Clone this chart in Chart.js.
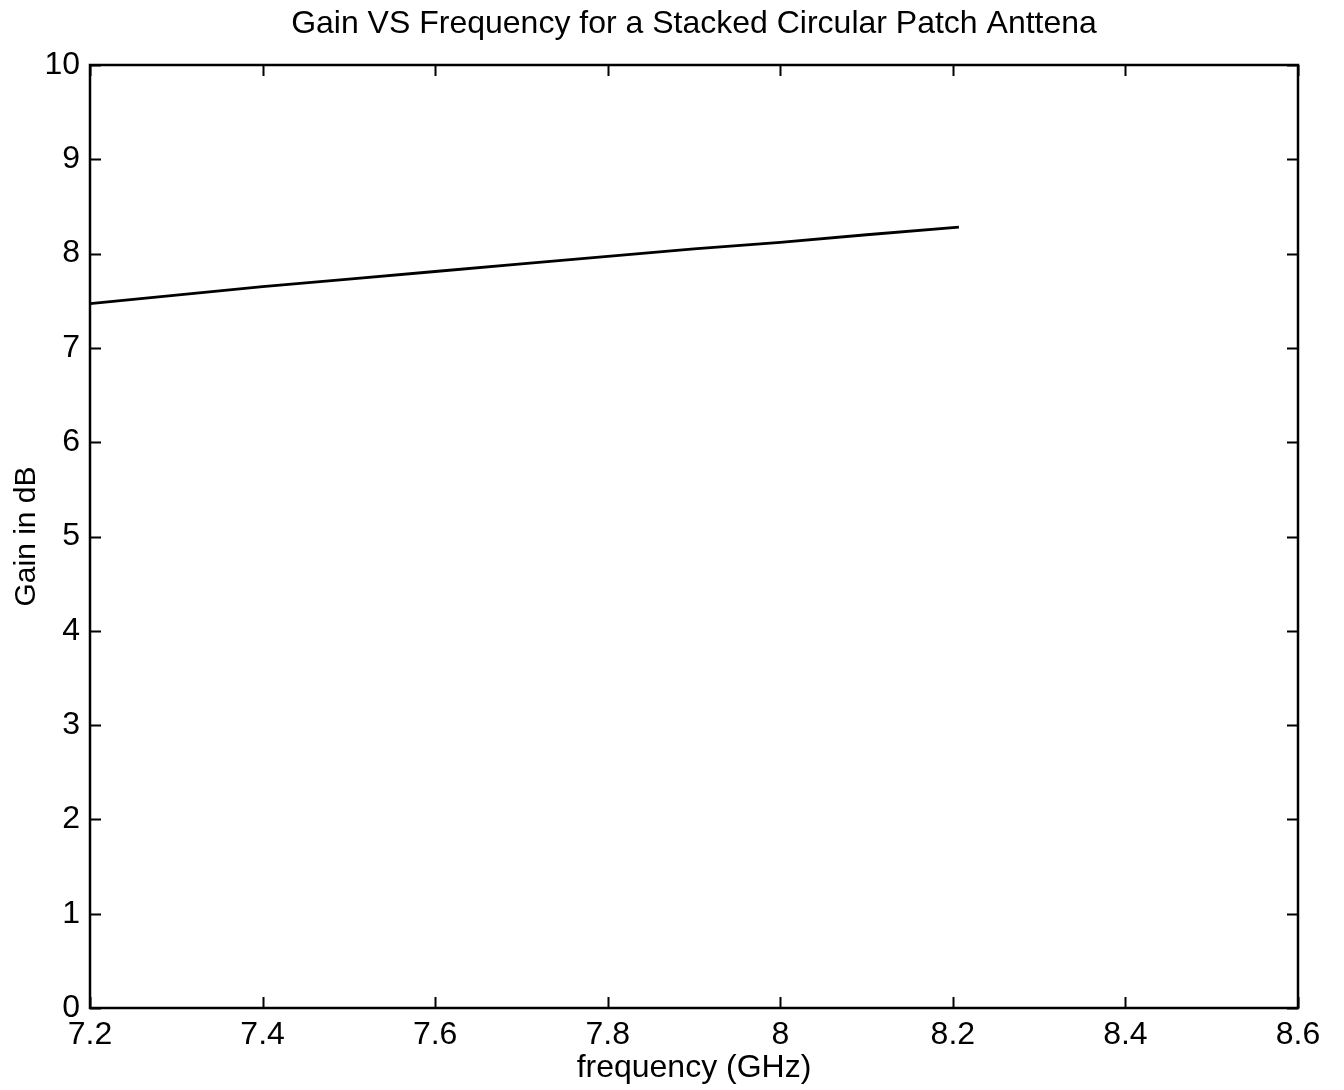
<!DOCTYPE html>
<html>
<head>
<meta charset="utf-8">
<script src="https://cdn.jsdelivr.net/npm/chart.js@4/dist/chart.umd.min.js"></script>
<style>
  html, body { margin: 0; padding: 0; background: #fff; }
  #wrap { width: 1344px; height: 1090px; }
</style>
</head>
<body>
<div id="wrap"><canvas id="chart-gain"></canvas></div>
<script>
// frequency in GHz, gain in dB
const frequency = [7.2, 7.3, 7.4, 7.5, 7.6, 7.7, 7.8, 7.9, 8.0, 8.1, 8.207];
const gainDb = [7.47, 7.56, 7.65, 7.73, 7.81, 7.89, 7.97, 8.05, 8.12, 8.20, 8.28];
const xTicks = [7.2, 7.4, 7.6, 7.8, 8.0, 8.2, 8.4, 8.6];
const yTicks = [0, 1, 2, 3, 4, 5, 6, 7, 8, 9, 10];
const chartTitle = 'Gain VS Frequency for a Stacked Circular Patch Anttena';

const FONT = '"Liberation Sans", Arial, Helvetica, sans-serif';

// matlab style box with ticks pointing inwards on all four sides,
// title centred over the plot box like matlab does
const boxTicks = {
    id: 'boxTicks',
    afterDraw(chart) {
        const { ctx, chartArea: a, scales } = chart;
        const len = 11;
        ctx.save();
        ctx.strokeStyle = '#000';
        ctx.lineWidth = 2.5;
        ctx.strokeRect(a.left, a.top, a.right - a.left, a.bottom - a.top);
        ctx.lineWidth = 2;
        ctx.beginPath();
        xTicks.forEach(v => {
            const px = Math.round(scales.x.getPixelForValue(v)) + 0.5;
            ctx.moveTo(px, a.bottom); ctx.lineTo(px, a.bottom - len);
            ctx.moveTo(px, a.top); ctx.lineTo(px, a.top + len);
        });
        yTicks.forEach(v => {
            const py = Math.round(scales.y.getPixelForValue(v)) + 0.5;
            ctx.moveTo(a.left, py); ctx.lineTo(a.left + len, py);
            ctx.moveTo(a.right, py); ctx.lineTo(a.right - len, py);
        });
        ctx.stroke();

        ctx.fillStyle = '#000';
        ctx.font = '32px ' + FONT;
        ctx.textAlign = 'center';
        ctx.textBaseline = 'middle';
        ctx.fillText(chartTitle, (a.left + a.right) / 2, 24);
        ctx.restore();
    }
};

const ctx = document.getElementById('chart-gain').getContext('2d');

new Chart(ctx, {
    type: 'line',
    data: {
        datasets: [{
            data: frequency.map((f, i) => ({ x: f, y: gainDb[i] })),
            borderColor: '#000',
            borderWidth: 2.8,
            pointRadius: 0,
            tension: 0,
            fill: false
        }]
    },
    options: {
        responsive: true,
        maintainAspectRatio: false,
        animation: false,
        layout: { padding: { top: 65, left: 0, right: 46, bottom: 0 } },
        plugins: {
            legend: { display: false },
            tooltip: { enabled: false },
            title: { display: false }
        },
        scales: {
            x: {
                type: 'linear',
                min: 7.2,
                max: 8.6,
                afterBuildTicks: axis => { axis.ticks = xTicks.map(v => ({ value: v })); },
                afterFit: axis => { axis.height = 82; },
                grid: { display: false, drawTicks: false },
                border: { display: false },
                ticks: {
                    color: '#000',
                    padding: 8,
                    maxRotation: 0,
                    font: { family: FONT, size: 32 },
                    callback: v => String(Number(v.toFixed(1)))
                },
                title: {
                    display: true,
                    text: 'frequency (GHz)',
                    color: '#000',
                    font: { family: FONT, size: 32 },
                    padding: { top: 0, bottom: 3 }
                }
            },
            y: {
                type: 'linear',
                min: 0,
                max: 10,
                afterBuildTicks: axis => { axis.ticks = yTicks.map(v => ({ value: v })); },
                afterFit: axis => { axis.width = 90; },
                grid: { display: false, drawTicks: false },
                border: { display: false },
                ticks: {
                    color: '#000',
                    padding: 10,
                    font: { family: FONT, size: 32 }
                },
                title: {
                    display: true,
                    text: 'Gain in dB',
                    color: '#000',
                    font: { family: FONT, size: 30 },
                    padding: { top: 9, bottom: 0 }
                }
            }
        }
    },
    plugins: [boxTicks]
});
</script>
</body>
</html>
